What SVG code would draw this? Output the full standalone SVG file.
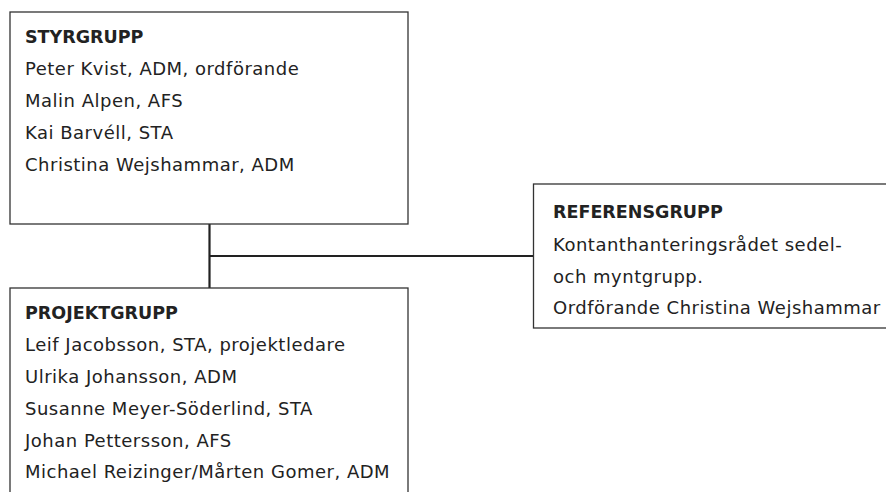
<svg xmlns="http://www.w3.org/2000/svg" width="886" height="492" viewBox="0 0 886 492">
<style>
.box{fill:#fff;stroke:#333;stroke-width:1.3}
.conn{fill:none;stroke:#222;stroke-width:2.2}
text{font-family:"DejaVu Sans","Noto Sans","Liberation Sans",sans-serif;font-size:18px;letter-spacing:0.5px;fill:#222}
.h{font-weight:bold;font-size:17.5px;letter-spacing:0}
</style>
<rect width="886" height="492" fill="#fff"/>
<g id="connectors">
<path class="conn" d="M209.5,224 V288"/>
<path class="conn" d="M209.5,256 H533"/>
</g>
<g id="styrgrupp">
<rect class="box" x="10" y="12" width="398" height="212"/>
<text class="h" x="25" y="43">STYRGRUPP</text>
<text x="25" y="74.5">Peter Kvist, ADM, ordförande</text>
<text x="25" y="106.5">Malin Alpen, AFS</text>
<text x="25" y="138.5">Kai Barvéll, STA</text>
<text x="25" y="170.5">Christina Wejshammar, ADM</text>
</g>
<g id="referensgrupp">
<rect class="box" x="533.5" y="184" width="360" height="144"/>
<text class="h" x="553" y="218">REFERENSGRUPP</text>
<text x="553" y="250.5">Kontanthanteringsrådet sedel-</text>
<text x="553" y="282.5">och myntgrupp.</text>
<text x="553" y="314">Ordförande Christina Wejshammar</text>
</g>
<g id="projektgrupp">
<rect class="box" x="10" y="288" width="398" height="220"/>
<text class="h" x="25" y="318.5">PROJEKTGRUPP</text>
<text x="25" y="350.5">Leif Jacobsson, STA, projektledare</text>
<text x="25" y="382.5">Ulrika Johansson, ADM</text>
<text x="25" y="414.5">Susanne Meyer-Söderlind, STA</text>
<text x="25" y="446.5">Johan Pettersson, AFS</text>
<text x="25" y="478">Michael Reizinger/Mårten Gomer, ADM</text>
</g>
</svg>
